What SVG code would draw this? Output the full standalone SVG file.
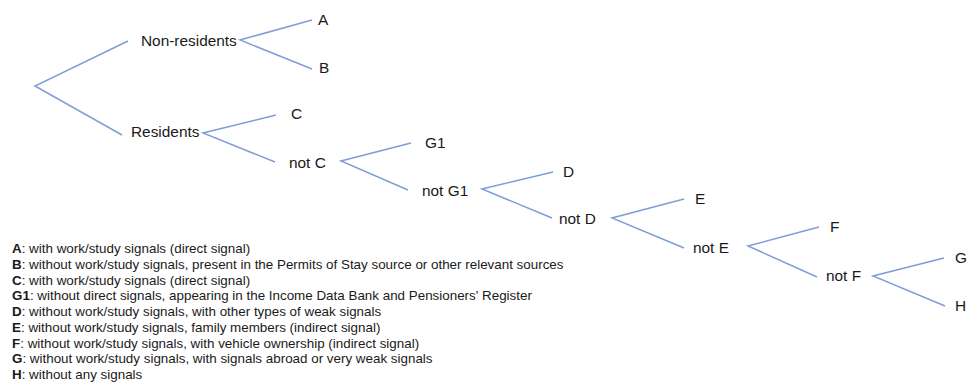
<svg xmlns="http://www.w3.org/2000/svg" width="967" height="383" viewBox="0 0 967 383">
<style>
.lbl{font-family:"Liberation Sans",Arial,sans-serif;font-size:15.4px;fill:#1a1a1a}
.leg{font-family:"Liberation Sans",Arial,sans-serif;font-size:13.4px;fill:#1a1a1a}
.leg tspan.k{font-weight:bold}
.edge{stroke:#7f9ed6;stroke-width:1.5;fill:none}
</style>
<rect width="967" height="383" fill="#ffffff"/>
<g id="connectors">
<path class="edge" d="M128,41 L35,86 L122,135"/>
<path class="edge" d="M312,20 L240,40 L312,69"/>
<path class="edge" d="M276,115 L203,133 L275,162"/>
<path class="edge" d="M411,143 L341,161 L408,190"/>
<path class="edge" d="M553,172 L482,189 L552,218"/>
<path class="edge" d="M684,199 L612,218 L684,248"/>
<path class="edge" d="M819,227 L748,246 L817,277"/>
<path class="edge" d="M944,258 L873,276 L945,306"/>
</g>
<g id="n-nonres"><text class="lbl" x="141" y="45.5">Non-residents</text></g>
<g id="n-A"><text class="lbl" x="318" y="25">A</text></g>
<g id="n-B"><text class="lbl" x="319" y="73">B</text></g>
<g id="n-res"><text class="lbl" x="131" y="137">Residents</text></g>
<g id="n-C"><text class="lbl" x="291" y="119">C</text></g>
<g id="n-notC"><text class="lbl" x="289" y="168">not C</text></g>
<g id="n-G1"><text class="lbl" x="425" y="148">G1</text></g>
<g id="n-notG1"><text class="lbl" x="422" y="196">not G1</text></g>
<g id="n-D"><text class="lbl" x="563" y="177">D</text></g>
<g id="n-notD"><text class="lbl" x="559" y="224">not D</text></g>
<g id="n-E"><text class="lbl" x="695" y="204">E</text></g>
<g id="n-notE"><text class="lbl" x="693" y="253">not E</text></g>
<g id="n-F"><text class="lbl" x="830" y="232">F</text></g>
<g id="n-notF"><text class="lbl" x="826" y="281">not F</text></g>
<g id="n-G"><text class="lbl" x="955" y="263">G</text></g>
<g id="n-H"><text class="lbl" x="955" y="311">H</text></g>
<g id="legend">
<text class="leg" x="12" y="253.3"><tspan class="k">A</tspan>: with work/study signals (direct signal)</text>
<text class="leg" x="12" y="269"><tspan class="k">B</tspan>: without work/study signals, present in the Permits of Stay source or other relevant sources</text>
<text class="leg" x="12" y="284.7"><tspan class="k">C</tspan>: with work/study signals (direct signal)</text>
<text class="leg" x="12" y="300.4"><tspan class="k">G1</tspan>: without direct signals, appearing in the Income Data Bank and Pensioners' Register</text>
<text class="leg" x="12" y="316.1"><tspan class="k">D</tspan>: without work/study signals, with other types of weak signals</text>
<text class="leg" x="12" y="331.8"><tspan class="k">E</tspan>: without work/study signals, family members (indirect signal)</text>
<text class="leg" x="12" y="347.5"><tspan class="k">F</tspan>: without work/study signals, with vehicle ownership (indirect signal)</text>
<text class="leg" x="12" y="363.2"><tspan class="k">G</tspan>: without work/study signals, with signals abroad or very  weak signals</text>
<text class="leg" x="12" y="378.9"><tspan class="k">H</tspan>: without any signals</text>
</g>
</svg>
